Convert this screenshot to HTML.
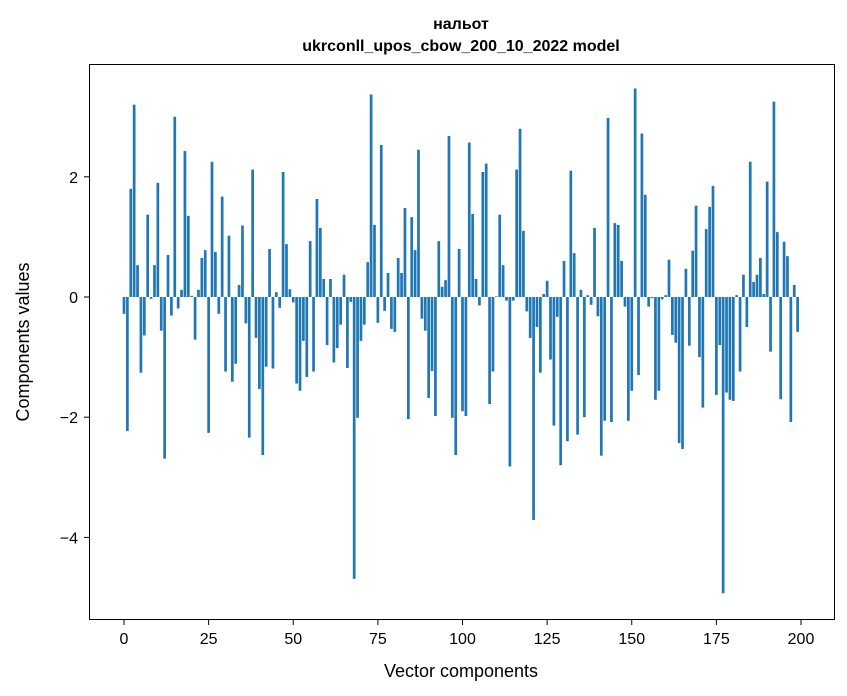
<!DOCTYPE html>
<html><head><meta charset="utf-8"><style>
body{margin:0;background:#fff;}
svg{display:block;font-family:"Liberation Sans",Arial,sans-serif;}
</style></head><body>
<svg id="chart" width="847" height="696" viewBox="0 0 847 696">
<text x="461" y="29" text-anchor="middle" font-size="16" font-weight="bold">нальот</text>
<text x="461" y="51" text-anchor="middle" font-size="16" font-weight="bold">ukrconll_upos_cbow_200_10_2022 model</text>
<g id="bars"></g>
<rect x="89.5" y="64.5" width="745" height="555" fill="none" stroke="#000" stroke-width="1"/>
<g id="xticks"></g>
<g id="yticks"></g>
<text x="461" y="677" text-anchor="middle" font-size="18">Vector components</text>
<text transform="translate(29,342) rotate(-90)" text-anchor="middle" font-size="18">Components values</text>
</svg>
<script>
const values = [
-0.28,-2.23,1.8,3.2,0.53,-1.26,-0.64,1.37,-0.03,0.53,
1.9,-0.56,-2.69,0.7,-0.31,3.0,-0.19,0.12,2.43,1.35,
0.02,-0.71,0.12,0.65,0.78,-2.26,2.25,0.75,-0.28,1.67,
-1.24,1.02,-1.41,-1.11,0.2,1.19,-0.44,-2.34,2.12,-0.68,
-1.53,-2.63,-1.16,0.8,-1.19,0.08,-0.18,2.08,0.88,0.13,
-0.09,-1.44,-1.56,-0.73,-1.33,0.93,-1.24,1.63,1.15,0.3,
-0.8,0.3,-1.09,-0.85,-0.46,0.37,-1.18,-0.08,-4.69,-2.01,
-0.73,-0.46,0.58,3.37,1.2,-0.43,2.53,-0.23,0.4,-0.53,
-0.58,0.65,0.4,1.48,-2.03,1.33,0.78,2.45,-0.36,-0.56,
-1.68,-1.23,-1.98,0.93,0.17,0.28,2.68,-2.01,-2.63,0.8,
-1.9,-1.98,2.57,1.38,0.3,-0.14,2.08,2.22,-1.78,-1.24,
0.01,1.37,0.53,-0.06,-2.82,-0.06,2.12,2.8,1.1,-0.24,
-0.68,-3.71,-0.5,-1.26,0.05,0.27,-1.04,-2.14,-0.33,-2.8,
0.6,-2.4,2.1,0.73,-2.29,0.12,-2.0,0.03,-0.13,1.15,
-0.32,-2.64,-2.06,2.98,-2.08,1.23,1.2,0.6,-0.16,-2.06,
-1.56,3.47,-1.3,2.72,1.7,-0.16,-0.02,-1.71,-1.56,-0.04,
0.03,0.62,-0.63,-0.76,-2.43,-2.53,0.47,-0.81,0.77,1.52,
-1.0,-1.84,1.13,1.5,1.85,-1.63,-0.8,-4.93,-1.59,-1.71,
-1.73,0.03,-1.24,0.37,-0.5,2.25,0.25,0.37,0.65,0.05,
1.92,-0.91,3.25,1.08,-1.7,0.92,0.68,-2.08,0.2,-0.58
];
const xTickValues = [0,25,50,75,100,125,150,175,200];
const yTickValues = [-4,-2,0,2];
const NS="http://www.w3.org/2000/svg";
function xs(v){return 124+v*3.385;}
function ys(v){return 297-v*60.1;}
const bars=document.getElementById('bars');
values.forEach((v,i)=>{
  const r=document.createElementNS(NS,'rect');
  const w=0.8*3.385;
  r.setAttribute('x',xs(i)-w/2);
  r.setAttribute('width',w);
  r.setAttribute('y',Math.min(ys(v),ys(0)));
  r.setAttribute('height',Math.abs(ys(v)-ys(0)));
  r.setAttribute('fill','#1f77b4');
  
  
  bars.appendChild(r);
});
const xt=document.getElementById('xticks');
xTickValues.forEach(t=>{
  const l=document.createElementNS(NS,'line');
  l.setAttribute('x1',xs(t));l.setAttribute('x2',xs(t));
  l.setAttribute('y1',620);l.setAttribute('y2',625);
  l.setAttribute('stroke','#000');
  
  
  xt.appendChild(l);
  const tx=document.createElementNS(NS,'text');
  tx.setAttribute('x',xs(t));tx.setAttribute('y',644);
  tx.setAttribute('text-anchor','middle');tx.setAttribute('font-size','16');
  tx.textContent=t;
  
  
  xt.appendChild(tx);
});
const yt=document.getElementById('yticks');
yTickValues.forEach(t=>{
  const l=document.createElementNS(NS,'line');
  l.setAttribute('x1',84);l.setAttribute('x2',89);
  l.setAttribute('y1',ys(t));l.setAttribute('y2',ys(t));
  l.setAttribute('stroke','#000');
  
  
  yt.appendChild(l);
  const tx=document.createElementNS(NS,'text');
  tx.setAttribute('x',78);tx.setAttribute('y',ys(t)+6);
  tx.setAttribute('text-anchor','end');tx.setAttribute('font-size','16');
  tx.textContent=t<0?'\u2212'+Math.abs(t):String(t);
  
  
  yt.appendChild(tx);
});
</script>
</body></html>
